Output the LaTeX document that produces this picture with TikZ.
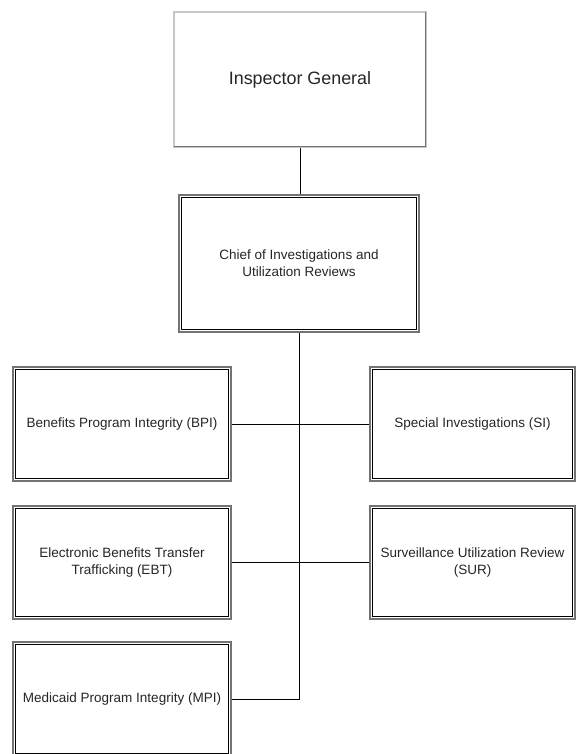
\documentclass[tikz,border=0pt]{standalone}
\usepackage{fontspec}
\setmainfont{Liberation Sans}
\begin{document}
\begin{tikzpicture}[x=1pt,y=-1pt,
  unitbox/.style={draw=black!55, line width=1.4pt, fill=white, align=center,
    text=black!85, font=\fontsize{13.5}{17}\selectfont, inner sep=0pt,
    path picture={\draw[black, line width=0.7pt]
      ([shift={(2.6pt,2.6pt)}]path picture bounding box.south west) rectangle
      ([shift={(-2.6pt,-2.6pt)}]path picture bounding box.north east);}},
  headbox/.style={draw=black!22, line width=1.3pt, fill=white, align=center,
    text=black!85, font=\fontsize{17.9}{21}\selectfont, inner sep=0pt},
  link/.style={draw=black, line width=0.8pt}]
\clip (0,0) rectangle (576,754);
\fill[white] (0,0) rectangle (576,754);

% top of the hierarchy
\node[headbox, minimum width=252, minimum height=135] (ig) at (300,79.5) {Inspector General};
\draw[black!55, line width=1.6pt]
  ([shift={(-1.2pt,-1pt)}]ig.north east) -- ([shift={(-1.2pt,1.2pt)}]ig.south east)
  -- ([shift={(1pt,1.2pt)}]ig.south west);

\node[unitbox, minimum width=240, minimum height=137] (chief) at (299,263.5)
  {Chief of Investigations and\\Utilization Reviews};

% units
\node[unitbox, minimum width=218, minimum height=114] (bpi) at (122,424) {Benefits Program Integrity (BPI)};
\node[unitbox, minimum width=205, minimum height=114] (si)  at (472.5,424) {Special Investigations (SI)};
\node[unitbox, minimum width=218, minimum height=113] (ebt) at (122,562.5)
  {Electronic Benefits Transfer\\Trafficking (EBT)};
\node[unitbox, minimum width=205, minimum height=113] (sur) at (472.5,562.5)
  {Surveillance Utilization Review\\(SUR)};
\node[unitbox, minimum width=218, minimum height=114] (mpi) at (122,699) {Medicaid Program Integrity (MPI)};

% reporting lines
\draw[link] (ig.south) -- (ig.south |- chief.north);
\draw[link] (chief.south) -- (chief.south |- mpi.east) -- (mpi.east);
\draw[link] (bpi.east) -- (si.west);
\draw[link] (ebt.east) -- (sur.west);
\end{tikzpicture}
\end{document}
